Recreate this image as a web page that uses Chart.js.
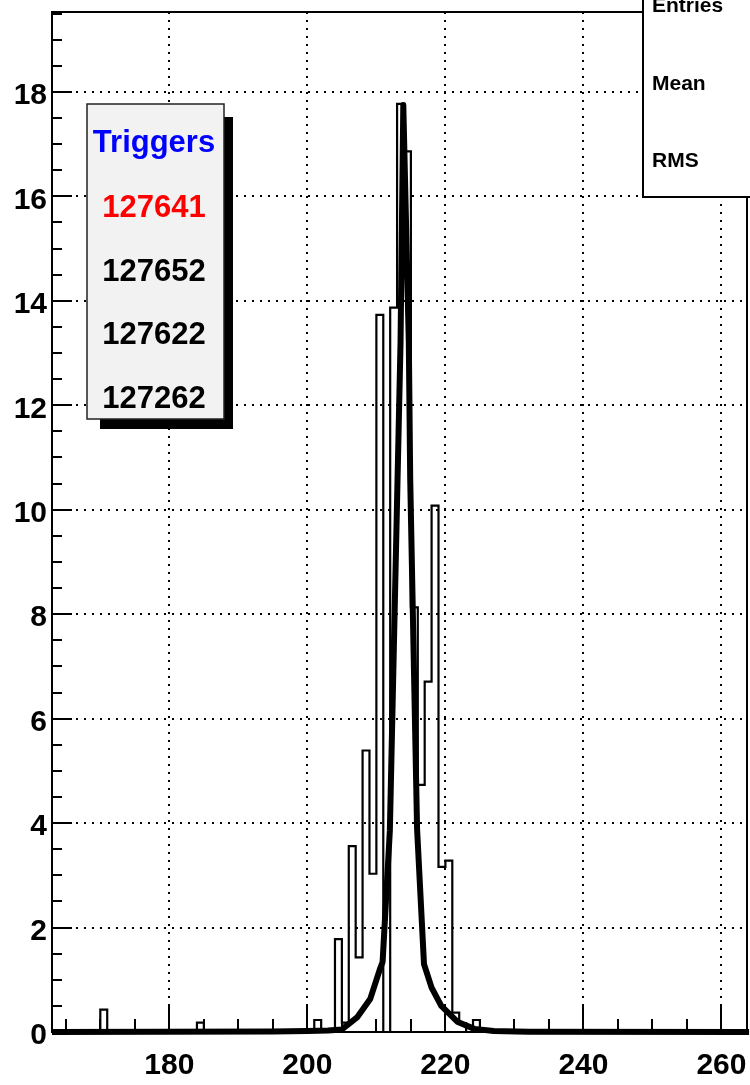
<!DOCTYPE html>
<html>
<head>
<meta charset="utf-8">
<script src="https://cdn.jsdelivr.net/npm/chart.js@4.4.1/dist/chart.umd.min.js"></script>
<style>
  html, body { margin: 0; padding: 0; background: #fff; }
  #wrap { width: 750px; height: 1085px; }
</style>
</head>
<body>
<div id="wrap"><canvas id="hist" width="750" height="1085"></canvas></div>
<script>
// histogram: lower edge of every non-empty bin (bins are 1 wide) and its content
const binLow = [170, 184, 201, 204, 205, 206, 207, 208, 209, 210, 212, 213, 214, 215, 216, 217, 218, 219, 220, 221, 222, 224];
const binContent = [0.43, 0.18, 0.23, 1.78, 0.18, 3.56, 1.43, 5.39, 3.03, 13.73, 13.87, 17.77, 16.86, 8.13, 4.73, 6.71, 10.08, 3.16, 3.28, 0.37, 0.17, 0.23];

// fitted curve, points
const fitX = [163, 195, 200, 203, 205, 207.2, 209.1, 210.5, 210.9, 211.95, 213.5, 213.9, 214.7, 214.9, 215.9, 216.9, 218, 219.4, 221.8, 224.2, 227, 232, 264];
const fitY = [0, 0.01, 0.02, 0.03, 0.05, 0.28, 0.63, 1.2, 1.34, 3.85, 13.2, 17.75, 13.2, 10.6, 3.88, 1.3, 0.85, 0.5, 0.19, 0.06, 0.02, 0.005, 0];

const triggerTitle = 'Triggers';
const triggers = ['127641', '127652', '127622', '127262'];
const triggerColors = ['#ff0000', '#000000', '#000000', '#000000'];
const statLabels = ['Entries', 'Mean', 'RMS'];

const xMin = 163, xMax = 263.7, yMax = 19.53;
const FONT = "'Liberation Sans', Arial, Helvetica, sans-serif";

// full set of bins from the axis range, empty ones are 0
const histPoints = [];
for (let b = 163; b <= 264; b++) {
    const i = binLow.indexOf(b);
    histPoints.push({ x: b, y: i >= 0 ? binContent[i] : 0 });
}
const fitPoints = fitX.map((x, i) => ({ x: x, y: fitY[i] }));

function noPad(s) {
    s.paddingTop = 0;
    s.paddingBottom = 0;
    s.paddingLeft = 0;
    s.paddingRight = 0;
}

const rootFrame = {
    id: 'rootFrame',
    afterDatasetsDraw(chart) {
        const { ctx, chartArea: a, scales: { x, y } } = chart;
        ctx.save();
        ctx.strokeStyle = '#000';
        ctx.lineWidth = 2;
        ctx.beginPath();
        y.ticks.forEach(t => {
            if (t.value <= 0 || t.value % 0.5 !== 0 || t.value >= yMax) return;
            const py = Math.round(y.getPixelForValue(t.value));
            const len = t.value % 2 === 0 ? 20 : 10;
            ctx.moveTo(a.left, py);
            ctx.lineTo(a.left + len, py);
        });
        x.ticks.forEach(t => {
            if (t.value % 5 !== 0) return;
            const px = Math.round(x.getPixelForValue(t.value));
            const len = t.value % 20 === 0 ? 27 : 13;
            ctx.moveTo(px, a.bottom);
            ctx.lineTo(px, a.bottom - len);
        });
        ctx.stroke();
        ctx.strokeRect(a.left, a.top, a.right - a.left, a.bottom - a.top);
        ctx.restore();
    },
    afterDraw(chart) {
        const ctx = chart.ctx;
        ctx.save();

        // triggers pave with shadow
        ctx.fillStyle = '#000';
        ctx.fillRect(100, 117, 133, 312);
        ctx.fillStyle = '#f2f2f2';
        ctx.fillRect(87, 104, 137, 315);
        ctx.strokeStyle = '#222';
        ctx.lineWidth = 1.5;
        ctx.strokeRect(87, 104, 137, 315);

        ctx.font = 'bold 31px ' + FONT;
        ctx.textAlign = 'center';
        ctx.textBaseline = 'alphabetic';
        ctx.fillStyle = '#0000ff';
        ctx.fillText(triggerTitle, 154, 152);
        triggers.forEach((t, i) => {
            ctx.fillStyle = triggerColors[i];
            ctx.fillText(t, 154, 217 + i * 63.7);
        });

        // stats box, top right
        ctx.fillStyle = '#fff';
        ctx.fillRect(643, -5, 112, 202);
        ctx.strokeStyle = '#000';
        ctx.lineWidth = 2;
        ctx.strokeRect(643, -5, 112, 202);
        ctx.font = 'bold 21px ' + FONT;
        ctx.textAlign = 'left';
        ctx.fillStyle = '#000';
        const base = [12, 90, 167];
        statLabels.forEach((s, i) => ctx.fillText(s, 652, base[i]));

        ctx.restore();
    }
};

const ctx = document.getElementById('hist').getContext('2d');
new Chart(ctx, {
    type: 'line',
    data: {
        datasets: [{
            label: 'fit',
            data: fitPoints,
            borderColor: '#000',
            borderWidth: 6,
            borderJoinStyle: 'round',
            pointRadius: 0,
            tension: 0,
            fill: false,
            clip: 4
        }, {
            label: 'hist',
            data: histPoints,
            stepped: 'before',
            borderColor: '#000',
            borderWidth: 2.2,
            pointRadius: 0,
            fill: false,
            clip: 2
        }]
    },
    options: {
        responsive: false,
        animation: false,
        layout: { padding: { top: 12, right: 3, left: 0, bottom: 0 } },
        plugins: { legend: { display: false }, tooltip: { enabled: false } },
        scales: {
            x: {
                type: 'linear',
                min: xMin,
                max: xMax,
                afterFit: s => { s.height = 53; noPad(s); },
                border: { display: false, dash: [2, 6] },
                grid: {
                    drawTicks: false,
                    lineWidth: 2,
                    color: c => (c.tick && c.tick.value % 20 === 0) ? '#000' : 'rgba(0,0,0,0)'
                },
                ticks: {
                    stepSize: 5,
                    includeBounds: false,
                    autoSkip: false,
                    maxRotation: 0,
                    padding: 16,
                    color: '#000',
                    font: { family: FONT, size: 30, weight: 'bold' },
                    callback: v => v % 20 === 0 ? String(v) : ''
                }
            },
            y: {
                min: 0,
                max: yMax,
                afterFit: s => { s.width = 52; noPad(s); },
                border: { display: false, dash: [2, 6] },
                grid: {
                    drawTicks: false,
                    lineWidth: 2,
                    color: c => (c.tick && c.tick.value > 0 && c.tick.value % 2 === 0) ? '#000' : 'rgba(0,0,0,0)'
                },
                ticks: {
                    stepSize: 0.5,
                    includeBounds: false,
                    autoSkip: false,
                    padding: 5,
                    labelOffset: 4,
                    color: '#000',
                    font: { family: FONT, size: 30, weight: 'bold' },
                    callback: v => v % 2 === 0 ? String(v) : ''
                }
            }
        }
    },
    plugins: [rootFrame]
});
</script>
</body>
</html>
